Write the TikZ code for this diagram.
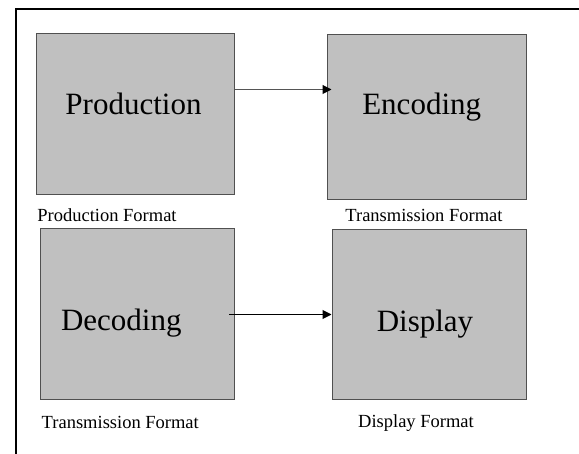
\documentclass[tikz,border=0pt]{standalone}
\usepackage{fontspec}
\setmainfont{Liberation Serif}
\usetikzlibrary{arrows.meta}

\definecolor{stageFill}{RGB}{192,192,192}
\definecolor{stageEdge}{RGB}{80,80,80}
\definecolor{flowLine}{RGB}{85,85,85}

\tikzset{
  stagebox/.style={draw=stageEdge, line width=1pt, fill=stageFill, inner sep=0pt},
  stagetext/.style={anchor=base, inner sep=0pt, font=\fontsize{31}{31}\selectfont},
  fmttext/.style={anchor=base, inner sep=0pt, font=\fontsize{18.5}{18.5}\selectfont},
  flow/.style={draw=flowLine, line width=1pt, -{Triangle[length=9pt,width=9pt,fill=black,color=black]}}
}

\begin{document}
\begin{tikzpicture}[x=1pt, y=-1pt]
\useasboundingbox (0,0) rectangle (579,454);
% frame
\draw[line width=2pt] (579,9.3) -- (15.7,9.3) -- (15.7,454);

% stages
\node[stagebox, minimum width=198pt, minimum height=161pt] (prod) at (135,114.5) {};
\node[stagebox, minimum width=199pt, minimum height=165pt] (enc) at (426.5,117.5) {};
\node[stagebox, minimum width=194pt, minimum height=171pt] (dec) at (137,314.5) {};
\node[stagebox, minimum width=194pt, minimum height=170pt] (disp) at (429,315) {};

\node[stagetext] (prodtxt) at (133.5,115) {Production};
\node[stagetext] (enctxt) at (421.7,115) {Encoding};
\node[stagetext] (dectxt) at (121.3,330.7) {Decoding};
\node[stagetext] (disptxt) at (425,331.3) {Display};

% formats
\node[fmttext] (prodfmt) at (107,221.7) {Production Format};
\node[fmttext] (encfmt) at (424,221.7) {Transmission Format};
\node[fmttext] (decfmt) at (120.3,428.3) {Transmission Format};
\node[fmttext] (dispfmt) at (416,428) {Display Format};

% arrows
\coordinate (encin) at ([xshift=5pt]enc.west);
\draw[flow] ([yshift=25pt]prod.east) -- ([yshift=25pt]prod.east -| encin);
\draw[flow, draw=black] ([xshift=-5.5pt]dec.east) -- (dec.east -| disp.west);
\end{tikzpicture}
\end{document}
